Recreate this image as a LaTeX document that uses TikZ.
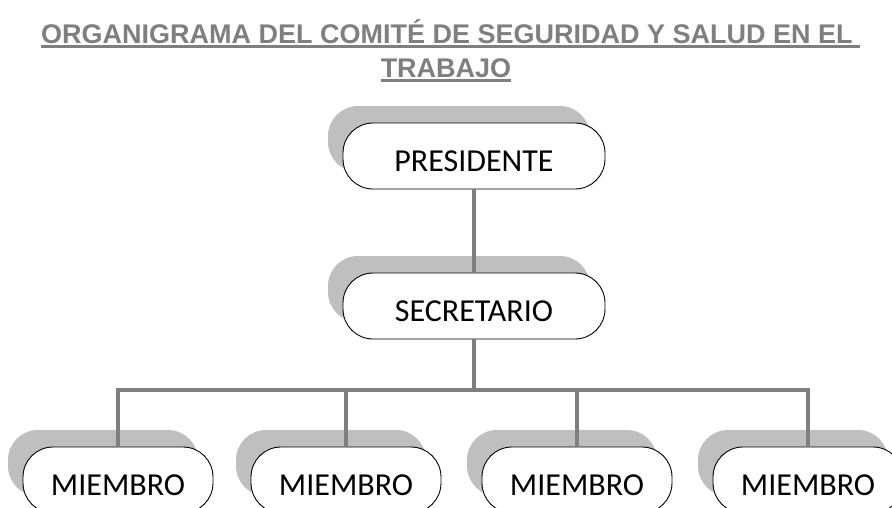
\documentclass[tikz,border=0pt]{standalone}
\usepackage{fontspec}
\usetikzlibrary{shadows}
\newfontfamily\titlefont{Liberation Sans}
\newfontfamily\boxfont{Carlito}
\definecolor{titlegray}{HTML}{7F7F7F}
\definecolor{linegray}{HTML}{7F7F7F}
\definecolor{shadowgray}{HTML}{BFBFBF}

\tikzset{
  cargo/.style={draw=black, line width=0.9pt, fill=white, rounded corners=30pt,
    minimum height=66pt, inner sep=0pt, text height=31pt, text depth=0pt,
    font=\boxfont\fontsize{32}{38}\selectfont,
    drop shadow={shadow xshift=-15pt, shadow yshift=17pt, fill=shadowgray, opacity=1}},
  titulo/.style={anchor=base, inner sep=0pt, text=titlegray,
    font=\titlefont\bfseries\fontsize{27}{32}\selectfont},
  uline/.style={draw=titlegray, line width=2.4pt},
  link/.style={draw=linegray, line width=3.5pt}
}

\begin{document}
\begin{tikzpicture}[x=1pt, y=-1pt]
      \useasboundingbox (0,0) rectangle (892,507);
      \clip             (0,0) rectangle (892,507);

      % titulo
      \node[titulo]     (t1) at (447,43) {ORGANIGRAMA DEL COMITÉ DE SEGURIDAD Y SALUD EN EL};
      \node[titulo]     (t2) at (446,77) {TRABAJO};
      \draw[uline]      ([yshift=-3.3pt]t1.base west) -- ([xshift=7.5pt,yshift=-3.3pt]t1.base east);
      \draw[uline]      ([yshift=-3.3pt]t2.base west) -- ([yshift=-3.3pt]t2.base east);

      % presidente y secretario
      \node[cargo, minimum width=262pt] (pres) at (474,156) {PRESIDENTE};
      \node[cargo, minimum width=262pt] (sec)  at (474,306) {SECRETARIO};

      % miembros
      \node[cargo, minimum width=190pt] (m1) at (118,480) {MIEMBRO};
      \node[cargo, minimum width=190pt] (m2) at (346,480) {MIEMBRO};
      \node[cargo, minimum width=190pt] (m3) at (577,480) {MIEMBRO};
      \node[cargo, minimum width=190pt] (m4) at (808,480) {MIEMBRO};

      % lineas
      \coordinate       (bus) at (474,390);
      \draw[link]       (pres) -- (sec);
      \draw[link]       (sec) -- (bus);
      \draw[link]       (bus) -| (m1);
      \draw[link]       (bus) -| (m2);
      \draw[link]       (bus) -| (m3);
      \draw[link]       (bus) -| (m4);
    \end{tikzpicture}
\end{document}
